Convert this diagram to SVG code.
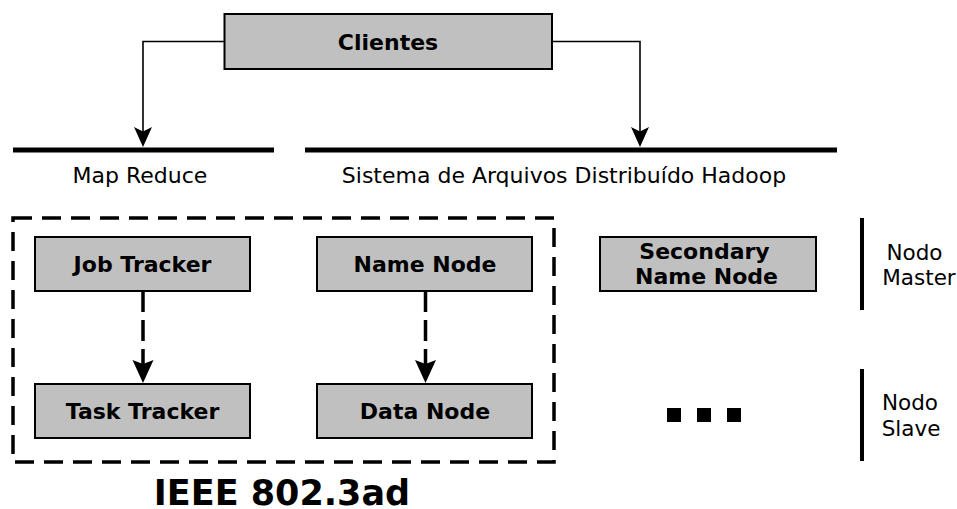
<svg xmlns="http://www.w3.org/2000/svg" width="957" height="509" viewBox="0 0 957 509">
<style>
.box{fill:#c0c0c0;stroke:#000;stroke-width:2}
.bl{font-family:"DejaVu Sans",sans-serif;font-weight:bold;font-size:22px;text-anchor:middle;fill:#000}
.lbl{font-family:"DejaVu Sans",sans-serif;font-size:22px;text-anchor:middle;fill:#000}
.side{font-family:"DejaVu Sans",sans-serif;font-size:21.5px;text-anchor:middle;fill:#000}
.bar{stroke:#000;stroke-width:5;fill:none}
.vbar{stroke:#000;stroke-width:4;fill:none}
.thin{stroke:#000;stroke-width:1.6;fill:none}
.dash{stroke:#000;stroke-width:3.5;fill:none;stroke-dasharray:21,8}
.head{fill:#000;stroke:none}
</style>
<rect width="957" height="509" fill="#fff"/>

<g id="connectors">
<polyline class="thin" points="224,41.5 143,41.5 143,135"/>
<polyline class="thin" points="552,41.5 640,41.5 640,135"/>
<line class="dash" x1="143" y1="291" x2="143" y2="368"/>
<line class="dash" x1="425.5" y1="291" x2="425.5" y2="368"/>
<path class="head" d="M143,147 L134,127 L143,131.5 L152,127 Z"/>
<path class="head" d="M640,147 L631,127 L640,131.5 L649,127 Z"/>
<path class="head" d="M143,383 L132.5,360 L143,364 L153.5,360 Z"/>
<path class="head" d="M425.5,383 L415,360 L425.5,364 L436,360 Z"/>
</g>

<g id="clientes">
<rect class="box" x="224.5" y="14" width="327.5" height="55"/>
<text class="bl" x="388" y="50">Clientes</text>
</g>

<g id="mapreduce">
<line class="bar" x1="13" y1="150" x2="274" y2="150"/>
<text class="lbl" x="140" y="183">Map Reduce</text>
</g>

<g id="hdfs">
<line class="bar" x1="305" y1="150" x2="837" y2="150"/>
<text class="lbl" x="564" y="183">Sistema de Arquivos Distribuído Hadoop</text>
</g>

<g id="ieee">
<rect x="13" y="218" width="541" height="244" fill="none" stroke="#000" stroke-width="3.5" stroke-dasharray="19,10"/>
<text x="282" y="505" style="font-family:'DejaVu Sans',sans-serif;font-weight:bold;font-size:35px;text-anchor:middle">IEEE 802.3ad</text>
</g>

<g id="jobtracker">
<rect class="box" x="35" y="237" width="215" height="54"/>
<text class="bl" x="142.5" y="272">Job Tracker</text>
</g>

<g id="namenode">
<rect class="box" x="317" y="237" width="215" height="54"/>
<text class="bl" x="425" y="272">Name Node</text>
</g>

<g id="tasktracker">
<rect class="box" x="35" y="384" width="215" height="54"/>
<text class="bl" x="142.5" y="419">Task Tracker</text>
</g>

<g id="datanode">
<rect class="box" x="317" y="384" width="215" height="54"/>
<text class="bl" x="425" y="419">Data Node</text>
</g>

<g id="secondary">
<rect class="box" x="600" y="237" width="216" height="54"/>
<text class="bl" x="704.5" y="259">Secondary</text>
<text class="bl" x="706.5" y="284">Name Node</text>
</g>

<g id="dots">
<rect x="667" y="408" width="14" height="14" fill="#000"/>
<rect x="697" y="408" width="14" height="14" fill="#000"/>
<rect x="727" y="408" width="14" height="14" fill="#000"/>
</g>

<g id="master">
<line class="vbar" x1="862" y1="218" x2="862" y2="310"/>
<text class="side" x="914.5" y="260">Nodo</text>
<text class="side" x="919" y="285">Master</text>
</g>

<g id="slave">
<line class="vbar" x1="862" y1="369" x2="862" y2="461"/>
<text class="side" x="910" y="410">Nodo</text>
<text class="side" x="911" y="436">Slave</text>
</g>
</svg>
